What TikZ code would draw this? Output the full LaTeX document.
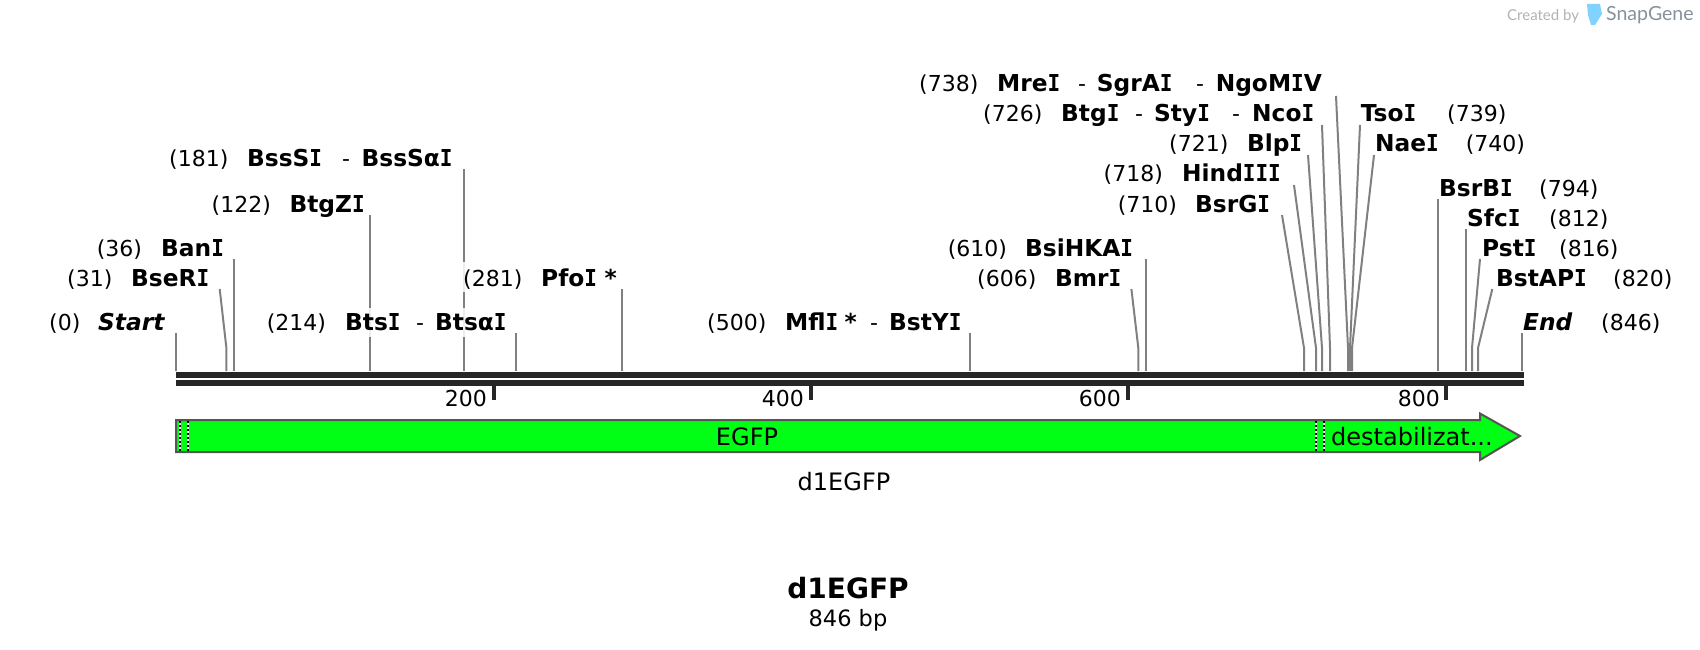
\documentclass[tikz,border=0pt]{standalone}
\usepackage{fontspec}
\setmainfont{DejaVu Sans}
\newfontfamily\latofam{Lato}
\newfontfamily\serifI[FakeStretch=0.9]{DejaVu Sans Mono}
\newcommand{\II}{{\serifI\bfseries I}}
\definecolor{fgreen}{RGB}{0,255,20}
\definecolor{barc}{RGB}{38,38,38}
\definecolor{sitec}{RGB}{128,128,128}
\definecolor{edgec}{RGB}{85,85,85}
\tikzset{
 x=1pt,y=-1pt,
 sitel/.style={draw=sitec,line width=2pt},
 halo/.style={fill=white,fill opacity=0.85,draw=none},
 basebar/.style={fill=barc,draw=none},
 tickm/.style={draw=barc,line width=4pt},
 numt/.style={anchor=base west,inner sep=0pt,font=\fontsize{22}{26}\selectfont,text=black},
 namet/.style={anchor=base west,inner sep=0pt,font=\fontsize{23.3}{28}\selectfont\bfseries,text=black},
 namei/.style={anchor=base west,inner sep=0pt,font=\fontsize{23.3}{28}\selectfont\bfseries\itshape,text=black},
 ctrt/.style={anchor=base,inner sep=0pt,font=\fontsize{24}{28}\selectfont,text=black},
 feat/.style={fill=fgreen,draw=edgec,line width=2pt,line join=miter},
 dashw/.style={draw=white,line width=2pt},
 dashb/.style={draw=black,line width=2pt,dash pattern=on 2pt off 2pt},
}
\begin{document}
\begin{tikzpicture}
\useasboundingbox (0,0) rectangle (1700,650);
% watermark
\node[anchor=base west,inner sep=0pt,font=\latofam\fontsize{15}{18}\selectfont,text=black!30] (wm1) at (1507,21) {Created by};
\fill[color={rgb,255:red,130;green,210;blue,255}] (1587,4) -- (1600,4) -- (1602,14) -- (1595,25) -- (1591,25) -- (1588,15) -- cycle;
\node[anchor=base west,inner sep=0pt,font=\latofam\fontsize{19.5}{24}\selectfont,text={rgb,255:red,135;green,145;blue,155}] (wm2) at (1606,21) {SnapGene};
% sites
\foreach \n/\xb/\xt/\yt in {
 start/176/176/333, bse/226.4/219.7/289, ban/234/234/259, btz/370/370/215,
 bss/464/464/169, bts/516/516/333, pfo/622/622/289, mfl/970/970/333,
 bmr/1138.3/1131.4/289, bsi/1146/1146/259, bsg/1304/1282/215, hin/1316/1294/185,
 blp/1322/1308/155, btg/1330/1322/125, mre/1348/1336/96, tso/1350/1360/125,
 nae/1352/1374/155, bsb/1438/1438/199, sfc/1466/1466/229, pst/1472/1480/259,
 bap/1478/1492.3/289, endd/1522/1522/333}{
 \coordinate (b\n) at (\xb,371);
 \coordinate (k\n) at (\xb,348);
 \coordinate (t\n) at (\xt,\yt);
 \draw[sitel] (b\n) -- (k\n) -- (t\n);
}
% labels fade the lines that they cross
\fill[halo] (368,308) rectangle (372,337);
\fill[halo] (462,308) rectangle (466,337);
\fill[halo] (462,262) rectangle (466,292);
% bars
\fill[basebar] (176,372) rectangle (1524,378);
\fill[basebar] (176,380) rectangle (1524,386);
% ticks
\foreach \n/\x in {a/494,b/811,c/1128,d/1446}{
 \coordinate (tk\n) at (\x,386);
 \coordinate (te\n) at (\x,400);
 \draw[tickm] (tk\n) -- (te\n);
}
\node[numt,anchor=base east] (l200) at (487,406) {200};
\node[numt,anchor=base east] (l400) at (804,406) {400};
\node[numt,anchor=base east] (l600) at (1121,406) {600};
\node[numt,anchor=base east] (l800) at (1440,406) {800};
% feature
\draw[feat] (176,420) -- (1480,420) -- (1480,413.5) -- (1520,436) -- (1480,460) -- (1480,452) -- (176,452) -- cycle;
\foreach \x in {180,188,1316,1324}{
 \draw[dashw] (\x,421) -- (\x,451);
 \draw[dashb] (\x,421) -- (\x,451);
}
\node[ctrt] (f1) at (747,445) {EGFP};
\node[ctrt,anchor=base west] (f2) at (1331,445) {destabilizat...};
\node[ctrt] (f3) at (844,490) {d1EGFP};
\node[anchor=base,inner sep=0pt,font=\fontsize{28}{32}\selectfont\bfseries] (t1) at (848,598) {d1EGFP};
\node[anchor=base,inner sep=0pt,font=\fontsize{22.5}{26}\selectfont] (t2) at (848,626) {846 bp};
% numbers
\foreach \x/\y/\t [count=\c] in {
 169/166/(181), 211.5/212/(122), 96.6/256/(36), 67/286/(31), 463/286/(281), 49/330/(0),
 266.6/330/(214), 919/92/(738), 983/122/(726), 1169/152/(721), 1103.5/182/(718),
 1117.7/212/(710), 947.7/256/(610), 977/286/(606), 707/330/(500),
 1447/122/(739), 1465.7/152/(740), 1539/196/(794), 1549/226/(812), 1559/256/(816),
 1613/286/(820), 1601/330/(846)}{
 \node[numt] (num\c) at (\x,\y) {\t};
}
% names
\foreach \x/\y/\t [count=\c] in {
 247/166/BssS\II, 361.5/166/BssSα\II, 289.4/212/BtgZ\II, 161/256/Ban\II, 131/286/BseR\II,
 541/286/Pfo\II, 604.5/286/*, 345/330/Bts\II, 435/330/Btsα\II,
 997/92/Mre\II, 1096.6/92/SgrA\II, 1215.6/92/NgoM\II V, 1061/122/Btg\II, 1154/122/Sty\II, 1252/122/Nco\II,
 1246.8/152/Blp\II, 1182/182/Hind\II\II\II, 1195/212/BsrG\II, 1025/256/BsiHKA\II, 1055/286/Bmr\II,
 785/330/Mfl\II, 844.4/330/*, 889/330/BstY\II,
 1360.7/122/Tso\II, 1375/152/Nae\II, 1439/196/BsrB\II, 1467/226/Sfc\II, 1482/256/Pst\II, 1496/286/BstAP\II}{
 \node[namet] (nm\c) at (\x,\y) {\t};
}
\node[namei] (nstart) at (98,330) {Start};
\node[namei] (nend) at (1523,330) {End};
% dashes between names
\foreach \x/\y [count=\c] in {342/166, 416/330, 1078/92, 1196/92, 1135/122, 1232/122, 870/330}{
 \node[numt] (sep\c) at (\x,\y) {-};
}
\end{tikzpicture}
\end{document}
